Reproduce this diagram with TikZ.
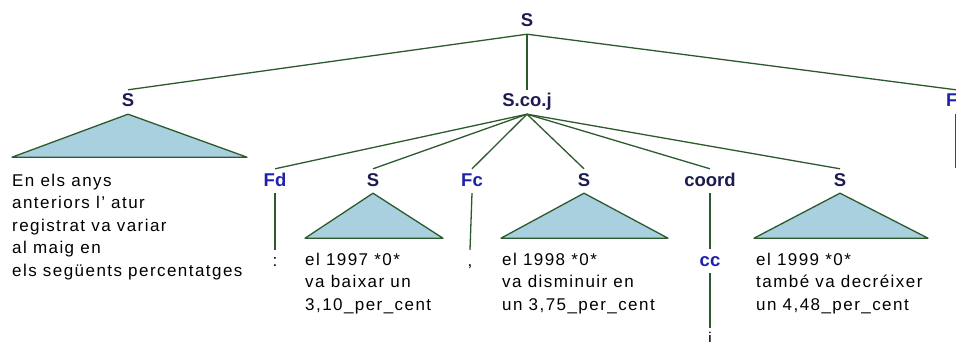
\documentclass[tikz,border=0pt]{standalone}
\usepackage{fontspec}
\setmainfont{Liberation Sans}
\definecolor{catcol}{HTML}{1C1C50}
\definecolor{punctcol}{HTML}{1E22A6}
\definecolor{linecol}{HTML}{2D5A2D}
\definecolor{trifill}{HTML}{A9D0DF}
\newcommand{\leaffont}{\addfontfeature{LetterSpace=8.5}\fontsize{17}{22.4}\selectfont}

\begin{document}
\begin{tikzpicture}[x=1pt, y=-1pt,
    cat/.style={font=\bfseries\fontsize{18.5}{20}\selectfont, text=catcol,
        text height=13pt, text depth=3pt, inner sep=4pt, anchor=base},
    punct/.style={cat, text=punctcol},
    word/.style={font=\leaffont, text height=12pt, text depth=4pt, inner sep=4pt, anchor=base},
    leaf/.style={font=\leaffont, align=left, anchor=north west, inner sep=0pt},
    branch/.style={draw=linecol, line width=1.3pt},
    subtree/.style={branch, fill=trifill, line join=round}
]
\useasboundingbox (0,0) rectangle (956,342);

% top level
\node[cat] (s0) at (527,27) {S};
\node[cat] (s1) at (128,107) {S};
\node[cat] (sco) at (527,107) {S.co.j};
\node[punct, text width=20pt, align=left] (fp) at (956,107) {F};
\coordinate (fpend) at (956,168);

% children of S.co.j
\node[punct] (fd) at (275,186) {Fd};
\node[cat] (s2) at (373,186) {S};
\node[punct] (fc) at (472,186) {Fc};
\node[cat] (s3) at (584,186) {S};
\node[cat] (crd) at (710,186) {coord};
\node[cat] (s4) at (840,186) {S};
\node[punct] (cc) at (710,266) {cc};

% leaves
\node[word] (colon) at (275,266) {:};
\node[word] (comma) at (470,266) {,};
\node[word] (conj) at (710,344) {i};
\node[leaf] (t1) at (12,174) {En els anys\\anteriors l’ atur\\registrat va variar\\al maig en\\els següents percentatges};
\node[leaf] (t2) at (305,253) {el 1997 *0*\\va baixar un\\3,10\_per\_cent};
\node[leaf] (t3) at (502,253) {el 1998 *0*\\va disminuir en\\un 3,75\_per\_cent};
\node[leaf] (t4) at (756,253) {el 1999 *0*\\també va decréixer\\un 4,48\_per\_cent};

% branches
\draw[branch] (s0.south) -- (s1.north);
\draw[branch] (s0.south) -- (sco.north);
\draw[branch] (s0.south) -- (fp.north);
\draw[branch] (fp.south) -- (fpend);
\foreach \kid in {fd,s2,fc,s3,crd,s4}
    \draw[branch] (sco.south) -- (\kid.north);
\draw[branch] (fd.south) -- (colon.north);
\draw[branch] (fc.south) -- (comma.north);
\draw[branch] (crd.south) -- (cc.north);
\draw[branch] (cc.south) -- (conj.north);

% collapsed subtrees
\draw[subtree] (s1.south) -- +(-116,43) -- +(119,43) -- cycle;
\draw[subtree] (s2.south) -- +(-68,45) -- +(70,45) -- cycle;
\draw[subtree] (s3.south) -- +(-83,45) -- +(84,45) -- cycle;
\draw[subtree] (s4.south) -- +(-86,45) -- +(88,45) -- cycle;
\end{tikzpicture}
\end{document}
